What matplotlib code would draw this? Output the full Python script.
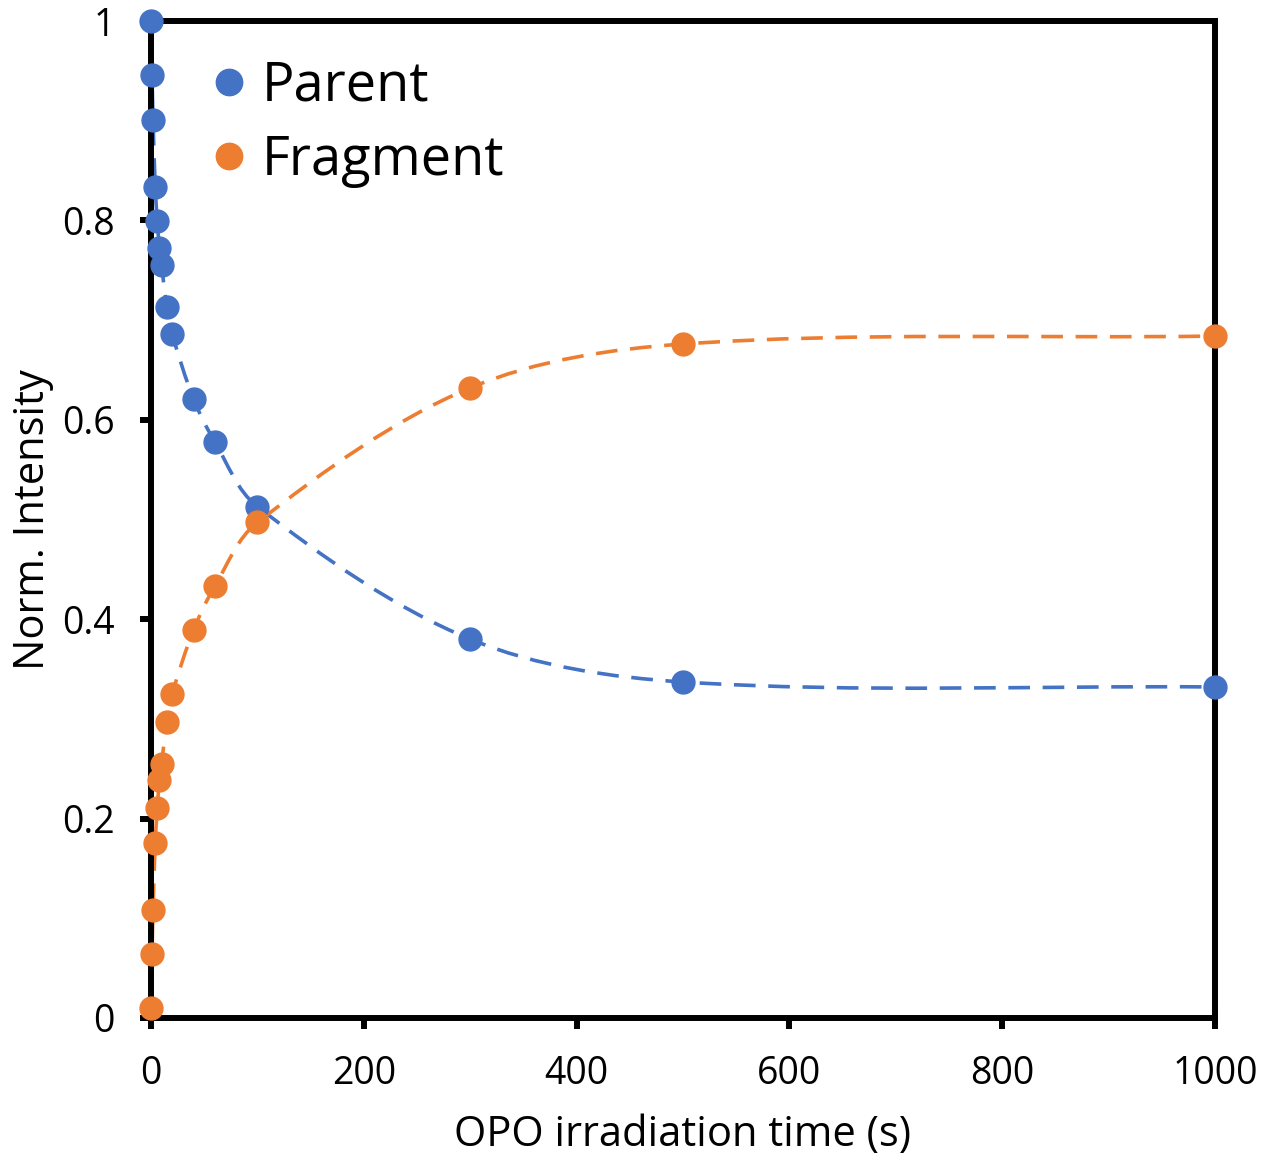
import matplotlib.pyplot as plt
import numpy as np
from matplotlib.path import Path
from matplotlib.patches import PathPatch

plt.rcParams['font.family'] = ['Open Sans', 'DejaVu Sans']

# irradiation time (s)
time_s = [0, 1, 2, 4, 6, 8, 10, 15, 20, 40, 60, 100, 300, 500, 1000]
parent = [1.000, 0.946, 0.901, 0.834, 0.799, 0.772, 0.755, 0.713, 0.686,
          0.621, 0.578, 0.513, 0.380, 0.337, 0.332]
fragment = [0.010, 0.064, 0.108, 0.175, 0.211, 0.239, 0.255, 0.297, 0.325,
            0.389, 0.433, 0.497, 0.632, 0.676, 0.684]

BLUE = '#4472C4'
ORANGE = '#ED7D31'


def smooth_path(x, y, xscale=1000.0 * 997 / 1064):
    # smoothed line like Excel's: Bezier segments, tangent along neighbours,
    # handle length a third of the segment so uneven spacing doesn't kink
    pts = np.column_stack([np.asarray(x, float) / xscale, np.asarray(y, float)])
    n = len(pts)
    tang = []
    for i in range(n):
        a = pts[max(i - 1, 0)]
        b = pts[min(i + 1, n - 1)]
        d = b - a
        tang.append(d / np.hypot(*d))
    verts = [pts[0]]
    codes = [Path.MOVETO]
    for i in range(n - 1):
        p1, p2 = pts[i], pts[i + 1]
        L = np.hypot(*(p2 - p1)) / 3.0
        verts += [p1 + tang[i] * L, p2 - tang[i + 1] * L, p2]
        codes += [Path.CURVE4] * 3
    verts = np.array(verts)
    verts[:, 0] *= xscale
    return Path(verts, codes)


fig = plt.figure(figsize=(12.61, 11.61), dpi=100)
ax = fig.add_axes([0.1197, 0.1232, 0.8438, 0.8587])

for ys, col, name in [(parent, BLUE, 'Parent'), (fragment, ORANGE, 'Fragment')]:
    patch = PathPatch(smooth_path(time_s, ys), facecolor='none', edgecolor=col,
                      lw=2.6, linestyle=(0, (6, 3.5)), zorder=2)
    ax.add_patch(patch)
    ax.plot(time_s, ys, 'o', color=col, ms=16.5, label=name, clip_on=False, zorder=3)

ax.set_xlim(0, 1000)
ax.set_ylim(0, 1)
ax.set_xticks(np.arange(0, 1001, 200))
ax.set_yticks([0, 0.2, 0.4, 0.6, 0.8, 1])
ax.set_yticklabels(['0', '0.2', '0.4', '0.6', '0.8', '1'])

for sp in ax.spines.values():
    sp.set_linewidth(4.3)
ax.tick_params(direction='out', length=8, width=4.3, labelsize=27, pad=19)
ax.tick_params(axis='y', pad=18)

ax.set_xlabel('OPO irradiation time (s)', fontsize=30, labelpad=15)
ax.set_ylabel('Norm. Intensity', fontsize=30, labelpad=6)

ax.legend(loc='upper left', bbox_to_anchor=(0.0, 1.0), frameon=False, fontsize=39,
          handletextpad=-0.15, labelspacing=0.35, borderaxespad=0.3, handlelength=1.5,
          markerscale=1.15)

fig.savefig('out.png', dpi=100)
